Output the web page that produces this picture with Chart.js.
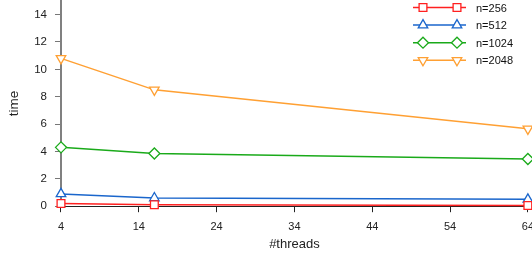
<!DOCTYPE html>
<html lang="en">
<head>
    <meta charset="UTF-8">
    <title>time vs threads</title>
    <style>
        body {
            margin: 0;
            padding: 0;
            overflow: hidden;
            background-color: white;
        }
        #box {
            position: absolute;
            left: 0;
            top: -14px;
            width: 542px;
            height: 272px;
        }
    </style>
</head>
<body>
    <div id="box">
        <canvas id="timeChart"></canvas>
    </div>
    <script src="https://cdn.jsdelivr.net/npm/chart.js"></script>
    <script>
        const threads = [4, 16, 64];
        const xTicks = [4, 14, 24, 34, 44, 54, 64];
        const yTicks = [0, 2, 4, 6, 8, 10, 12, 14];
        const seriesNames = ["n=256", "n=512", "n=1024", "n=2048"];
        const n256 = [0.2, 0.1, 0.05];
        const n512 = [0.9, 0.6, 0.5];
        const n1024 = [4.3, 3.85, 3.45];
        const n2048 = [10.8, 8.5, 5.65];

        const colors = ["#ff2020", "#1a66cc", "#1aaa1a", "#ffa033"];
        const markers = ["rect", "triangle", "rectRot", "triangle"];
        const markerRot = [0, 0, 0, 180];
        const markerSize = [5.5, 5.5, 5.5, 5.5];

        const values = [n256, n512, n1024, n2048];
        const datasets = values.map((vals, i) => ({
            label: seriesNames[i],
            data: vals.map((v, j) => ({ x: threads[j], y: v })),
            borderColor: colors[i],
            backgroundColor: "white",
            borderWidth: 1.5,
            pointStyle: markers[i],
            pointRotation: markerRot[i],
            pointRadius: markerSize[i],
            pointBorderWidth: 1.3,
            pointBackgroundColor: "white",
            clip: false
        }));

        // legend drawn inside the plot, line with two markers like the original
        // (canvas sits 14px above the page top, so rows are offset by that)
        const insideLegend = {
            id: "insideLegend",
            afterDraw(chart) {
                const ctx = chart.ctx;
                ctx.save();
                chart.data.datasets.forEach((ds, i) => {
                    const y = 14 + 7.5 + i * 17.6;
                    ctx.strokeStyle = ds.borderColor;
                    ctx.lineWidth = 1.5;
                    ctx.beginPath();
                    ctx.moveTo(413, y);
                    ctx.lineTo(466, y);
                    ctx.stroke();
                    [423, 457].forEach(px => {
                        ctx.fillStyle = "white";
                        ctx.strokeStyle = ds.borderColor;
                        ctx.lineWidth = 1.3;
                        Chart.helpers.drawPoint(ctx, {
                            pointStyle: ds.pointStyle,
                            rotation: ds.pointRotation,
                            radius: ds.pointRadius,
                            borderWidth: 1.3
                        }, px, y);
                    });
                    ctx.fillStyle = "#111";
                    ctx.font = "11px 'Liberation Sans', Arial, sans-serif";
                    ctx.textBaseline = "middle";
                    ctx.fillText(ds.label, 476, y + 1);
                });
                ctx.restore();
            }
        };

        new Chart(document.getElementById("timeChart"), {
            type: "line",
            data: { datasets: datasets },
            options: {
                responsive: true,
                maintainAspectRatio: false,
                animation: false,
                layout: { padding: { top: 0, left: 6, right: 0, bottom: 6 } },
                plugins: {
                    legend: { display: false },
                    tooltip: { enabled: false }
                },
                scales: {
                    x: {
                        type: "linear",
                        min: 4,
                        max: 64,
                        afterBuildTicks: axis => { axis.ticks = xTicks.map(v => ({ value: v })); },
                        grid: { drawOnChartArea: false, tickLength: 6, color: "#222" },
                        border: { color: "#222", width: 1 },
                        ticks: {
                            color: "#222",
                            padding: 8,
                            maxRotation: 0,
                            font: { family: "'Liberation Sans', Arial, sans-serif", size: 11 }
                        },
                        title: {
                            display: true,
                            text: "#threads",
                            color: "#222",
                            padding: { top: -5, bottom: 0 },
                            font: { family: "'Liberation Sans', Arial, sans-serif", size: 13 }
                        }
                    },
                    y: {
                        min: 0,
                        max: 15,
                        afterBuildTicks: axis => { axis.ticks = yTicks.map(v => ({ value: v })); },
                        grid: { drawOnChartArea: false, tickLength: 6, color: "#777" },
                        border: { color: "#808080", width: 2 },
                        ticks: {
                            color: "#222",
                            padding: 8,
                            font: { family: "'Liberation Sans', Arial, sans-serif", size: 11.5 }
                        },
                        title: {
                            display: true,
                            text: "time",
                            color: "#222",
                            padding: { top: 0, bottom: 4 },
                            font: { family: "'Liberation Sans', Arial, sans-serif", size: 13.5 }
                        }
                    }
                }
            },
            plugins: [insideLegend]
        });
    </script>
</body>
</html>
